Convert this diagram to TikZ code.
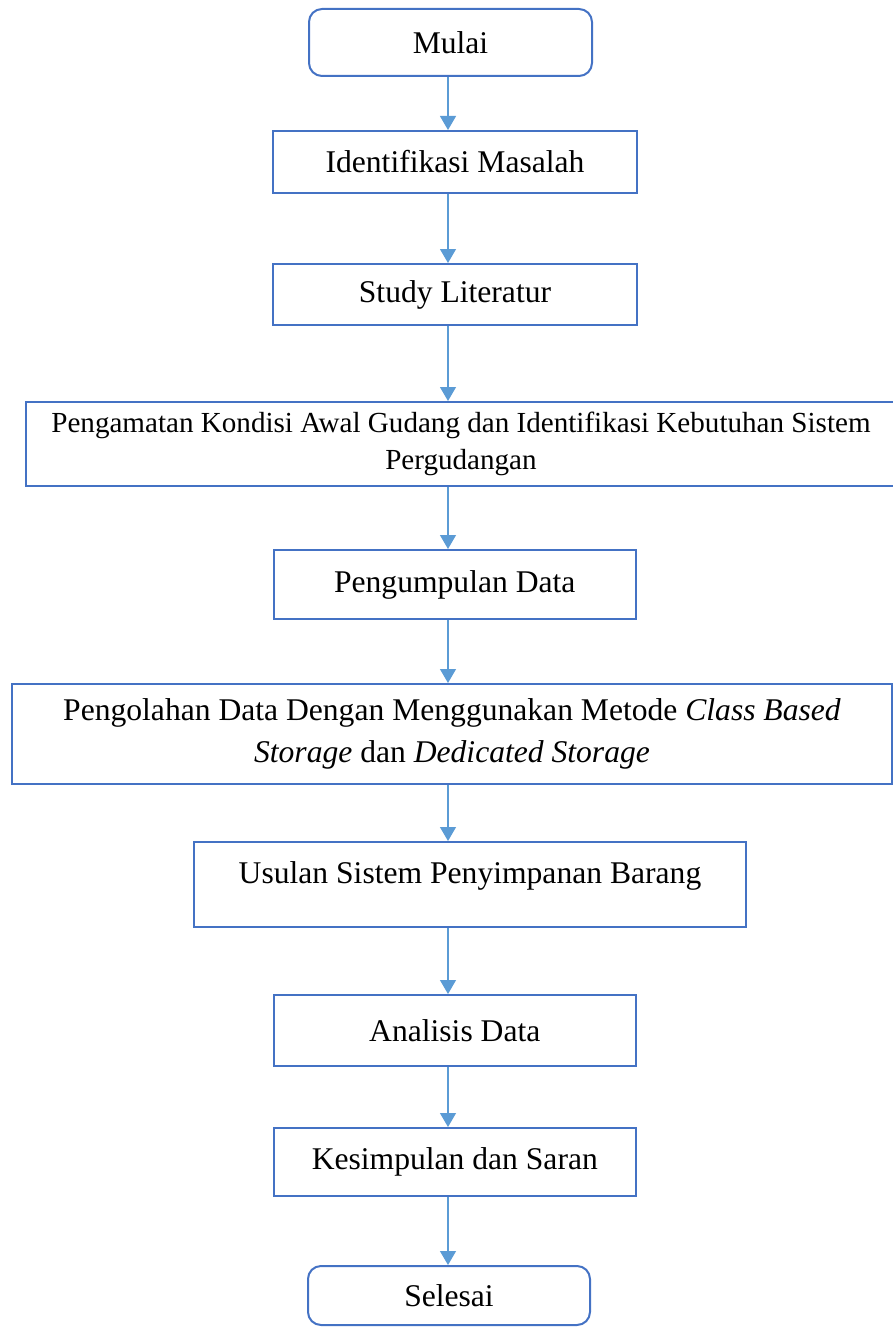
\documentclass[tikz,border=0pt]{standalone}
\usepackage{fontspec}
\setmainfont{Liberation Serif}
\usetikzlibrary{arrows.meta}
\definecolor{boxblue}{HTML}{4472C4}
\definecolor{arrblue}{HTML}{5B9BD5}
\begin{document}
\begin{tikzpicture}[x=1pt,y=-1pt,
  box/.style={draw=boxblue,line width=2pt,rectangle,inner sep=0pt,align=center,
    font=\fontsize{31.6}{42}\selectfont},
  term/.style={box,rounded corners=13pt},
  conn/.style={draw=arrblue,line width=1.2pt,-{Triangle[length=14pt,width=16pt]}}]
\useasboundingbox (0,0) rectangle (893,1327);
\coordinate (ax) at (448,0);
\node[term,minimum width=283pt,minimum height=67pt] (mulai) at (450.5,42.5) {Mulai};
\node[box,minimum width=364pt,minimum height=62pt] (ident) at (455,162) {Identifikasi Masalah};
\node[box,minimum width=364pt,minimum height=61pt] (study) at (455,294.5) {Study Literatur};
\node[box,minimum width=870pt,minimum height=84pt,font=\fontsize{29.1}{37}\selectfont] (amat) at (461,444)
  {Pengamatan Kondisi Awal Gudang dan Identifikasi Kebutuhan Sistem\\Pergudangan};
\node[box,minimum width=361.5pt,minimum height=69pt] (kumpul) at (454.75,584.5) {Pengumpulan Data};
\node[box,minimum width=880pt,minimum height=100pt] (olah) at (452,734)
  {Pengolahan Data Dengan Menggunakan Metode \textit{Class Based}\\\textit{Storage} dan \textit{Dedicated Storage}};
\node[box,minimum width=552pt,minimum height=85pt,text depth=24pt] (usul) at (470,884.5) {Usulan Sistem Penyimpanan Barang};
\node[box,minimum width=362.4pt,minimum height=71pt] (analisis) at (454.8,1030.5) {Analisis Data};
\node[box,minimum width=362.4pt,minimum height=68pt] (simpul) at (454.8,1162) {Kesimpulan dan Saran};
\node[term,minimum width=282pt,minimum height=59pt] (selesai) at (449,1295.5) {Selesai};
\draw[conn] (mulai.south -| ax) -- (ident.north -| ax);
\draw[conn] (ident.south -| ax) -- (study.north -| ax);
\draw[conn] (study.south -| ax) -- (amat.north -| ax);
\draw[conn] (amat.south -| ax) -- (kumpul.north -| ax);
\draw[conn] (kumpul.south -| ax) -- (olah.north -| ax);
\draw[conn] (olah.south -| ax) -- (usul.north -| ax);
\draw[conn] (usul.south -| ax) -- (analisis.north -| ax);
\draw[conn] (analisis.south -| ax) -- (simpul.north -| ax);
\draw[conn] (simpul.south -| ax) -- (selesai.north -| ax);
\end{tikzpicture}
\end{document}
